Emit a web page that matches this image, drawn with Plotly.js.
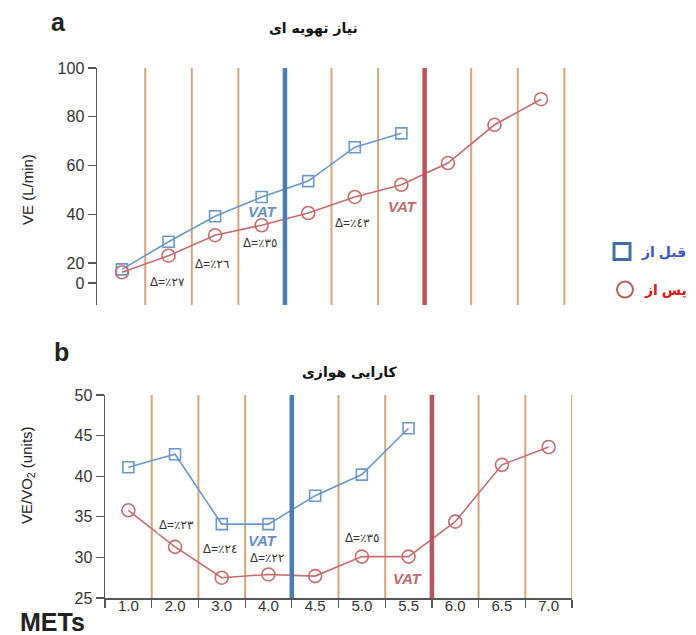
<!DOCTYPE html>
<html>
<head>
<meta charset="utf-8">
<script src="https://cdn.plot.ly/plotly-3.0.1.min.js"></script>
<style>html,body{margin:0;padding:0;background:#fff;}#chart{width:696px;height:635px;}</style>
</head>
<body>
<div id="chart"></div>
<script>
// ---- data ----
const metLabels = ['1.0','2.0','3.0','4.0','4.5','5.0','5.5','6.0','6.5','7.0'];
const veBefore = [17.4, 28.7, 39.2, 47.1, 53.6, 67.5, 73.2];
const veAfter = [16.2, 23.0, 31.4, 35.5, 40.5, 47.1, 52.1, 61.0, 76.7, 87.2];
const eqBefore = [41.1, 42.7, 34.1, 34.1, 37.6, 40.2, 45.9];
const eqAfter = [35.8, 31.3, 27.5, 27.9, 27.7, 30.1, 30.1, 34.4, 41.4, 43.6];
const deltaLabelsA = ['Δ=٪٢٧', 'Δ=٪٢٦', 'Δ=٪٣٥', 'Δ=٪٤٣'];
const deltaLabelsB = ['Δ=٪٢٣', 'Δ=٪٢٤', 'Δ=٪٢٢', 'Δ=٪٣٥'];
const stageBounds = [0.5, 1.5, 2.5, 4.5, 5.5, 7.5, 8.5, 9.5];
const xTickMarks = [-0.5, 0.5, 1.5, 2.5, 3.5, 4.5, 5.5, 6.5, 7.5, 8.5, 9.5];
const vatBefore = 3.5;
const vatAfter = 6.5;
const yTicksA = [11.8, 20, 40, 60, 80, 100];
const yTickTextA = ['0', '20', '40', '60', '80', '100'];
const yTicksB = [25, 30, 35, 40, 45, 50];
const legendBefore = 'قبل از';
const legendAfter = 'پس از';

// ---- helpers ----
const W = 696, H = 635;
const px = x => x / W;
const py = y => 1 - y / H;
const idx = arr => arr.map((_, i) => i);

const blue = '#6b98cc', red = '#c96c70';
const orange = '#d6a57c';
const font = 'Arial, "Liberation Sans", "DejaVu Sans", sans-serif';

const traces = [
  {x: idx(veBefore), y: veBefore, xaxis: 'x', yaxis: 'y', mode: 'lines+markers', showlegend: false,
   line: {color: blue, width: 1.6}, marker: {symbol: 'square-open', size: 11, color: blue, line: {width: 1.6}}},
  {x: idx(veAfter), y: veAfter, xaxis: 'x', yaxis: 'y', mode: 'lines+markers', showlegend: false,
   line: {color: red, width: 1.6}, marker: {symbol: 'circle-open', size: 13, color: red, line: {width: 1.6}}},
  {x: idx(eqBefore), y: eqBefore, xaxis: 'x2', yaxis: 'y2', mode: 'lines+markers', showlegend: false,
   line: {color: blue, width: 1.6}, marker: {symbol: 'square-open', size: 11, color: blue, line: {width: 1.6}}},
  {x: idx(eqAfter), y: eqAfter, xaxis: 'x2', yaxis: 'y2', mode: 'lines+markers', showlegend: false,
   line: {color: red, width: 1.6}, marker: {symbol: 'circle-open', size: 13, color: red, line: {width: 1.6}}},
  {x: [null], y: [null], xaxis: 'x', yaxis: 'y', mode: 'markers', legend: 'legend',
   name: '<span style="color:#3a55c8">' + legendBefore + '</span>',
   marker: {symbol: 'square-open', size: 16, color: '#3f6fa6', line: {width: 3}}},
  {x: [null], y: [null], xaxis: 'x', yaxis: 'y', mode: 'markers', legend: 'legend2',
   name: '<span style="color:#e01818">' + legendAfter + '</span>',
   marker: {symbol: 'circle-open', size: 16, color: '#b8605c', line: {width: 2}}}
];

const shapes = [];
[['x', 'y'], ['x2', 'y2']].forEach(([xr, yr]) => {
  stageBounds.forEach(v => shapes.push({type: 'line', xref: xr, yref: yr + ' domain', x0: v, x1: v, y0: 0, y1: 1,
    line: {color: orange, width: 2}, layer: 'below'}));
  shapes.push({type: 'line', xref: xr, yref: yr + ' domain', x0: vatBefore, x1: vatBefore, y0: 0, y1: 1,
    line: {color: '#4a7cb6', width: 4.5}, layer: 'above'});
  shapes.push({type: 'line', xref: xr, yref: yr + ' domain', x0: vatAfter, x1: vatAfter, y0: 0, y1: 1,
    line: {color: '#b9545c', width: 4.5}, layer: 'above'});
});

const ann = [];
function addText(text, x, y, opts) {
  ann.push(Object.assign({text: text, xref: 'paper', yref: 'paper', x: px(x), y: py(y),
    xanchor: 'center', yanchor: 'middle', showarrow: false, font: {family: font, size: 12, color: '#222'}}, opts || {}));
}
const deltaPosA = [[167, 282], [212, 264], [260, 243], [352, 223]];
const deltaPosB = [[176, 525], [220, 549], [267, 558], [362, 538]];
const deltaFont = {family: font, size: 12, color: '#333'};
deltaLabelsA.forEach((t, i) => addText(t, deltaPosA[i][0], deltaPosA[i][1], {bgcolor: '#fff', borderpad: 1, font: deltaFont}));
deltaLabelsB.forEach((t, i) => addText(t, deltaPosB[i][0], deltaPosB[i][1], {bgcolor: '#fff', borderpad: 1, font: deltaFont}));
const vatFontB = {family: font, size: 15, color: '#6a8ec6', weight: 'bold', style: 'italic'};
const vatFontR = {family: font, size: 15, color: '#c06a70', weight: 'bold', style: 'italic'};
addText('VAT', 263, 211, {font: vatFontB});
addText('VAT', 403, 206, {font: vatFontR});
addText('VAT', 263, 540, {font: vatFontB});
addText('VAT', 408, 578, {font: vatFontR});
addText('a', 59, 22, {font: {family: font, size: 25, color: '#222', weight: 'bold'}});
addText('b', 61, 352, {font: {family: font, size: 25, color: '#222', weight: 'bold'}});
addText('نیاز تهویه ای', 313, 29, {font: {family: '"DejaVu Sans", sans-serif', size: 14, color: '#111', weight: 'bold'}});
addText('کارایی هوازی', 350, 372, {font: {family: '"DejaVu Sans", sans-serif', size: 14, color: '#111', weight: 'bold'}});
addText('VE (L/min)', 27, 190, {textangle: -90, font: {family: font, size: 15, color: '#222'}});
addText('VE/VO<sub>2</sub> (units)', 27, 475, {textangle: -90, font: {family: font, size: 15, color: '#222'}});
addText('METs', 52, 622, {font: {family: font, size: 25, color: '#222', weight: 'bold'}});

const yAxisCommon = {showgrid: false, zeroline: false, showline: true, linecolor: '#555', linewidth: 1.5, automargin: false,
  ticks: 'outside', ticklen: 8, tickcolor: '#555', tickwidth: 1.2, tickfont: {family: font, size: 16, color: '#333'}, fixedrange: true};

const layout = {
  width: W, height: H, margin: {l: 0, r: 0, t: 0, b: 0, autoexpand: false}, paper_bgcolor: '#fff', plot_bgcolor: 'rgba(0,0,0,0)',
  showlegend: true,
  xaxis: {domain: [px(97), px(569)], range: [-0.536, 9.6], showline: false, showticklabels: false, ticks: '',
    showgrid: false, zeroline: false, anchor: 'y', automargin: false},
  yaxis: Object.assign({}, yAxisCommon, {domain: [py(305), py(68)], range: [2.77, 100], tickvals: yTicksA, ticktext: yTickTextA, anchor: 'x'}),
  xaxis2: {domain: [px(105), px(572)], range: [-0.5, 9.5], showline: true, linecolor: '#555', linewidth: 1.5,
    showgrid: false, zeroline: false, anchor: 'y2', automargin: false,
    tickvals: idx(metLabels), ticktext: metLabels, ticks: '', ticklabelstandoff: -7, tickfont: {family: font, size: 15, color: '#333'},
    minor: {tickvals: xTickMarks, ticks: 'outside', ticklen: 8, tickcolor: '#555', tickwidth: 1.2, showgrid: false}},
  yaxis2: Object.assign({}, yAxisCommon, {domain: [py(598), py(395)], range: [25, 50], tickvals: yTicksB, anchor: 'x2'}),
  shapes: shapes,
  annotations: ann,
  legend: {x: px(693), y: py(252), xanchor: 'right', yanchor: 'middle', bgcolor: 'rgba(0,0,0,0)',
    font: {family: font, size: 14, weight: 'bold'}, itemwidth: 30},
  legend2: {x: px(693), y: py(290), xanchor: 'right', yanchor: 'middle', bgcolor: 'rgba(0,0,0,0)',
    font: {family: font, size: 14, weight: 'bold'}, itemwidth: 30}
};

Plotly.newPlot('chart', traces, layout, {staticPlot: true, displayModeBar: false});
</script>
</body>
</html>
